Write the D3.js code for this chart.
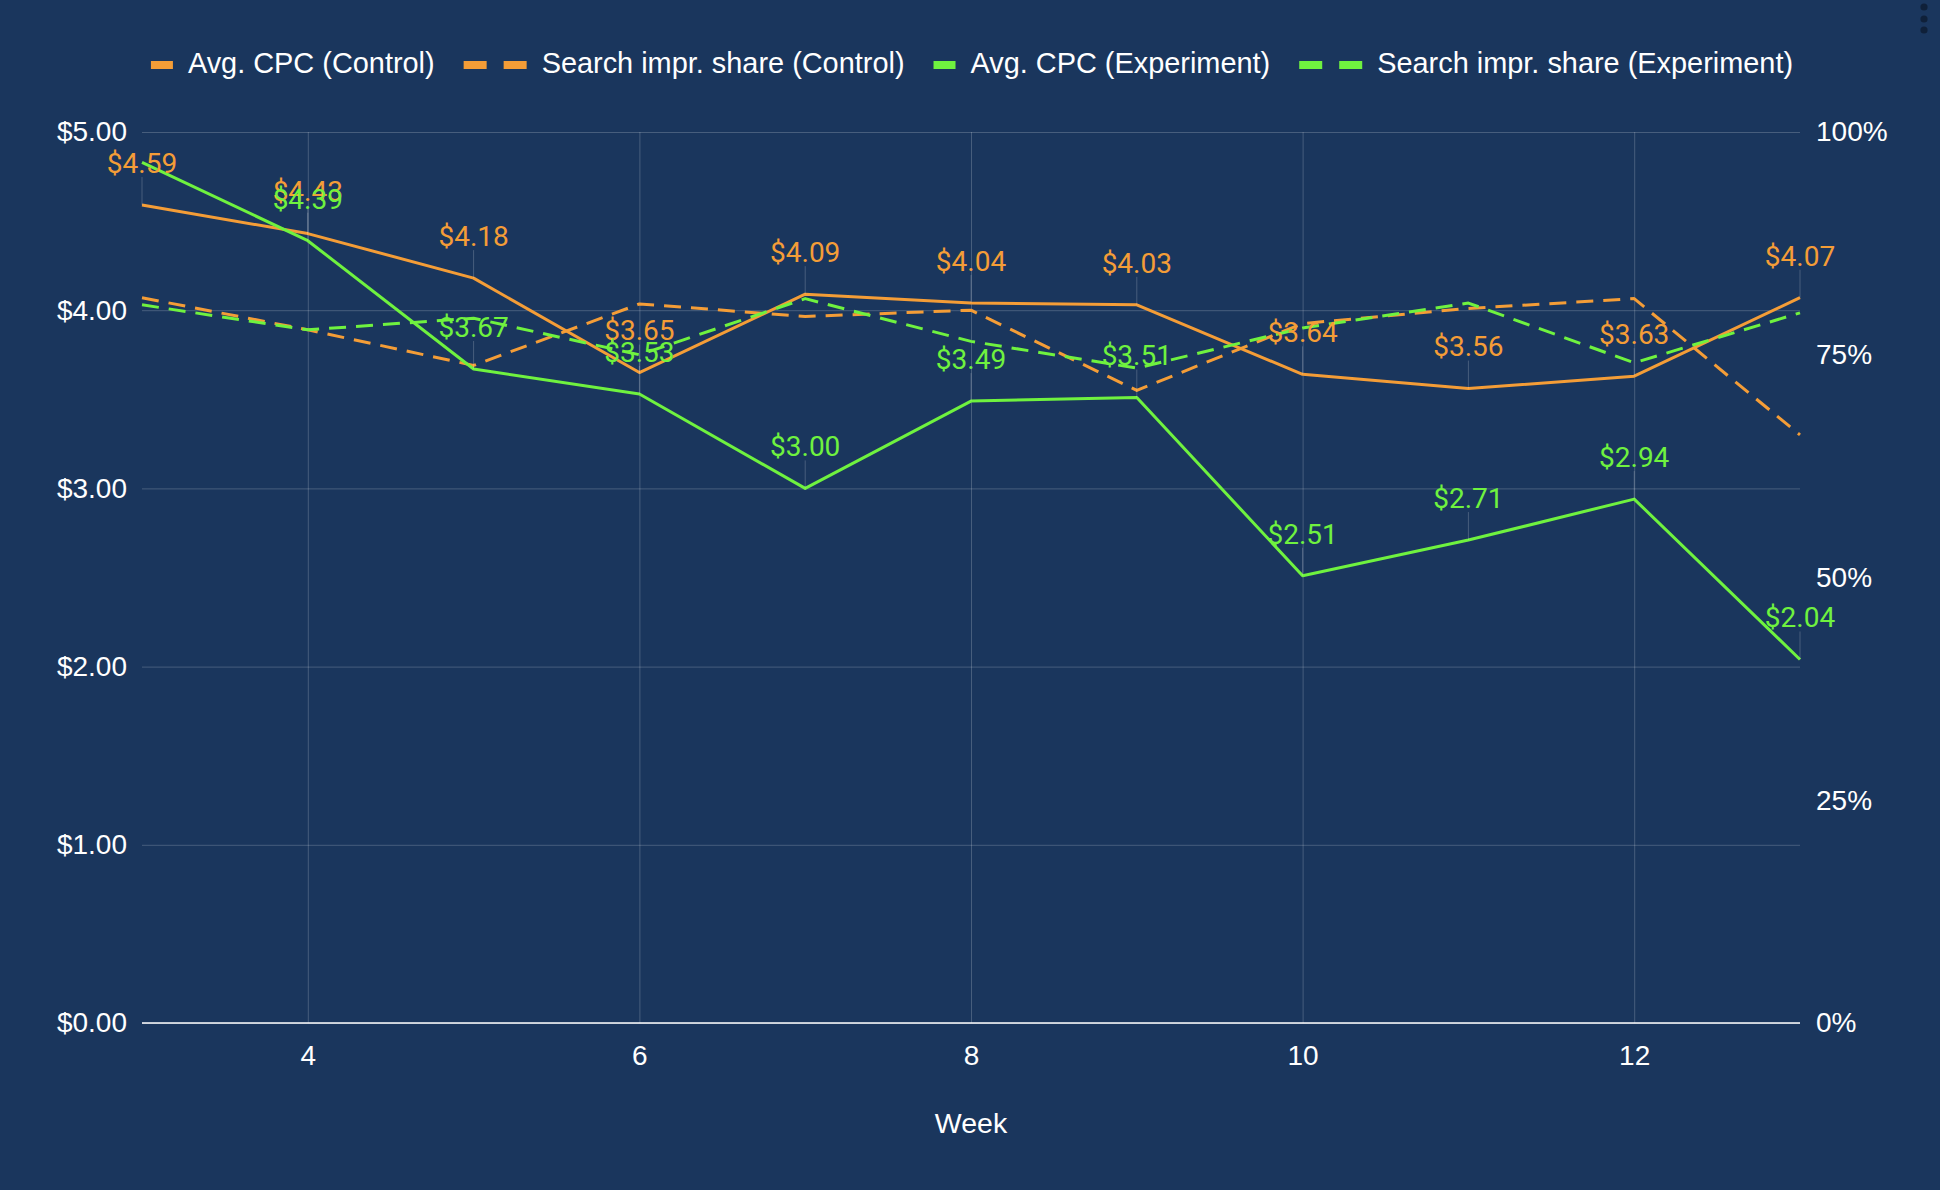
<!DOCTYPE html>
<html>
<head>
<meta charset="utf-8">
<script src="https://cdn.jsdelivr.net/npm/d3@7"></script>
<style>
  html, body { margin: 0; padding: 0; background: #1a365d; }
  svg { display: block; }
</style>
</head>
<body>
<div id="chart"></div>
<script>
const weeks = [3, 4, 5, 6, 7, 8, 9, 10, 11, 12, 13];
const cpcControl = [4.59, 4.43, 4.18, 3.65, 4.09, 4.04, 4.03, 3.64, 3.56, 3.63, 4.07];
const cpcExperiment = [4.83, 4.39, 3.67, 3.53, 3.0, 3.49, 3.51, 2.51, 2.71, 2.94, 2.04];
const shareControl = [81.4, 77.8, 73.8, 80.7, 79.3, 80.0, 71.0, 78.5, 80.2, 81.3, 66.0];
const shareExperiment = [80.6, 77.8, 79.1, 75.0, 81.3, 76.5, 73.5, 78.0, 80.8, 74.1, 79.7];
const xTicks = [4, 6, 8, 10, 12];
const cpcTicks = [0, 1, 2, 3, 4, 5];
const shareTicks = [0, 25, 50, 75, 100];

const orange = '#f49d37';
const green = '#6ff23f';
const grid = 'rgba(255,255,255,0.2)';
const sansFont = '"Liberation Sans", Arial, sans-serif';

const w = 1940;
const h = 1190;
const plotLeft = 142;
const plotRight = 1800;
const plotTop = 132;
const plotBottom = 1023;

const svg = d3.select('#chart').append('svg').attr('width', w).attr('height', h);
svg.append('rect').attr('width', w).attr('height', h).attr('fill', '#1a365d');

const scaleX = d3.scaleLinear().domain([3, 13]).range([plotLeft, plotRight]);
const scaleCpc = d3.scaleLinear().domain([0, 5]).range([plotBottom, plotTop]);
const scaleShare = d3.scaleLinear().domain([0, 100]).range([plotBottom, plotTop]);

// grid
const gx = svg.append('g')
  .attr('transform', `translate(0, ${plotBottom})`)
  .call(d3.axisBottom(scaleX).tickValues(xTicks).tickSize(-(plotBottom - plotTop)).tickFormat(d3.format('d')).tickPadding(22));
gx.select('.domain').remove();
gx.selectAll('line').attr('stroke', grid);
gx.selectAll('text').attr('fill', '#fff').style('font', `28px ${sansFont}`);

const gy = svg.append('g')
  .attr('transform', `translate(${plotLeft}, 0)`)
  .call(d3.axisLeft(scaleCpc).tickValues(cpcTicks).tickSize(-(plotRight - plotLeft)).tickFormat((d) => '$' + d3.format('.2f')(d)).tickPadding(15));
gy.select('.domain').remove();
gy.selectAll('line').attr('stroke', grid);
gy.selectAll('text').attr('fill', '#fff').style('font', `28px ${sansFont}`);

const gy2 = svg.append('g')
  .attr('transform', `translate(${plotRight}, 0)`)
  .call(d3.axisRight(scaleShare).tickValues(shareTicks).tickSize(0).tickFormat((d) => d + '%').tickPadding(16));
gy2.select('.domain').remove();
gy2.selectAll('text').attr('fill', '#fff').style('font', `28px ${sansFont}`);

// zero line
svg.append('line')
  .attr('x1', plotLeft).attr('x2', plotRight)
  .attr('y1', scaleCpc(0)).attr('y2', scaleCpc(0))
  .attr('stroke', 'rgba(255,255,255,0.75)').attr('stroke-width', 2);

// x title
svg.append('text')
  .attr('x', (plotLeft + plotRight) / 2).attr('y', 1133)
  .attr('text-anchor', 'middle').attr('fill', '#fff')
  .style('font', `28.5px ${sansFont}`).text('Week');

// series
const series = [
  { name: 'Avg. CPC (Control)', values: cpcControl, scale: scaleCpc, color: orange, dashed: false },
  { name: 'Search impr. share (Control)', values: shareControl, scale: scaleShare, color: orange, dashed: true },
  { name: 'Avg. CPC (Experiment)', values: cpcExperiment, scale: scaleCpc, color: green, dashed: false },
  { name: 'Search impr. share (Experiment)', values: shareExperiment, scale: scaleShare, color: green, dashed: true }
];

series.forEach((s) => {
  const line = d3.line().x((d, i) => scaleX(weeks[i])).y((d) => s.scale(d));
  svg.append('path')
    .datum(s.values)
    .attr('d', line)
    .attr('fill', 'none')
    .attr('stroke', s.color)
    .attr('stroke-width', 3)
    .attr('stroke-linejoin', 'round')
    .attr('stroke-dasharray', s.dashed ? '17,10' : null);
});

// data labels for the CPC series
const labelOffset = 42;
series.filter((s) => !s.dashed).forEach((s) => {
  const g = svg.append('g');
  s.values.forEach((v, i) => {
    const px = scaleX(weeks[i]);
    const py = s.scale(v);
    if (py - labelOffset < plotTop) return; // would fall outside the plot
    g.append('line')
      .attr('x1', px).attr('x2', px)
      .attr('y1', py - 28).attr('y2', py)
      .attr('stroke', grid).attr('stroke-width', 1);
    g.append('text')
      .attr('x', px).attr('y', py - labelOffset)
      .attr('dy', '0.35em')
      .attr('text-anchor', 'middle')
      .attr('fill', s.color)
      .style('font', '28px Roboto, sans-serif')
      .text('$' + d3.format('.2f')(v));
  });
});

// legend
const legend = svg.append('g');
let cx = 0;
series.forEach((s) => {
  const sw = s.dashed ? 63 : 22;
  legend.append('line')
    .attr('x1', cx).attr('x2', cx + sw)
    .attr('y1', 65).attr('y2', 65)
    .attr('stroke', s.color).attr('stroke-width', 8)
    .attr('stroke-dasharray', s.dashed ? '23,17' : null);
  const t = legend.append('text')
    .attr('x', cx + sw + 15).attr('y', 73)
    .attr('fill', '#fff')
    .style('font', `28.9px ${sansFont}`)
    .text(s.name);
  cx += sw + 15 + t.node().getComputedTextLength() + 29;
});
const legendW = cx - 29;
legend.attr('transform', `translate(${972 - legendW / 2}, 0)`);

// kebab menu dots
[7, 19, 30].forEach((y) => {
  svg.append('circle').attr('cx', 1924).attr('cy', y).attr('r', 3.6).attr('fill', '#0f2039');
});
</script>
</body>
</html>
